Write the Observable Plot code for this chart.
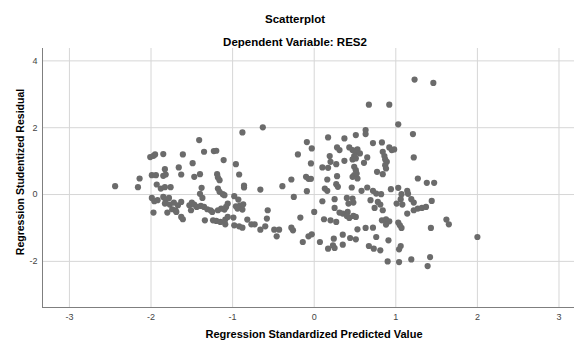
<!DOCTYPE html>
<html><head><meta charset="utf-8">
<script src="https://cdn.jsdelivr.net/npm/d3@7"></script>
<script src="https://cdn.jsdelivr.net/npm/@observablehq/plot@0.6"></script>
<style>
body{margin:0;background:#fff;font-family:"Liberation Sans",Arial,sans-serif;}
#wrap{position:relative;width:574px;height:341px;overflow:hidden;background:#fff}
#chart{position:absolute;left:0;top:0}
.t{position:absolute;font-weight:bold;font-size:11px;color:#000;white-space:nowrap;transform:translate(-50%,-50%);z-index:2}
</style></head><body>
<div id="wrap">
<div id="chart"></div>
<div class="t" style="left:295px;top:18.5px;font-size:11.5px">Scatterplot</div>
<div class="t" style="left:295px;top:41.5px;font-size:11.5px">Dependent Variable: RES2</div>
<div class="t" style="left:314px;top:334px">Regression Standardized Predicted Value</div>
<div class="t" style="left:20px;top:171.5px;font-size:10.5px;transform:translate(-50%,-50%) rotate(-90deg)">Regression Studentized Residual</div>
</div>
<script>
// Regression standardized predicted value (x) and studentized residual (y)
const predicted = [
-2.01,-1.97,-1.95,-1.85,-1.61,-1.35,-1.41,-1.83,-1.66,-1.49,-1.99,-1.94,-1.85,-1.82,-1.63,-1.47,-1.40,-2.14,-2.16,-2.44,-1.93,-1.88,-1.83,-1.76,-1.38,-1.40,
-1.99,-1.96,-1.92,-1.85,-1.82,-1.78,-1.83,-1.77,-1.72,-1.67,-1.70,-1.74,-1.69,-1.63,-1.97,-1.80,-1.63,-1.61,-1.53,-1.51,-1.50,-1.47,-1.44,-1.39,-1.35,-1.37,-1.31,-1.27,-1.25,-1.34,-1.24,
-0.63,-0.88,-1.23,-1.20,-1.11,-0.96,-0.92,-1.19,-1.18,-1.16,-0.86,-0.86,-0.66,-1.18,-1.16,-1.12,-1.10,-0.98,-0.93,-0.96,-0.91,-0.87,-0.94,-0.88,-1.06,-1.08,-1.10,-1.14,-1.18,-1.20,-1.15,-1.09,-1.06,-1.09,-0.99,-0.98,-0.92,-0.88,-0.82,-0.77,-0.73,-0.66,-0.60,-0.58,-0.57,-0.49,-0.43,-0.46,-0.28,-0.26,-0.17,-0.14,-0.07,-0.03,-0.39,-0.28,-0.25,-0.20,-0.09,-0.03,-0.04,-0.10,-0.07,-0.04,-0.09,0.00,0.07,
1.23,0.67,0.92,1.03,1.21,1.22,1.27,1.38,0.63,0.63,0.51,0.37,0.17,0.72,0.83,0.28,0.31,0.43,0.47,0.51,0.53,0.56,0.49,0.47,0.51,0.19,0.92,0.95,0.98,0.84,0.86,0.87,0.89,0.87,0.88,0.65,0.61,0.37,0.27,0.20,0.17,0.10,0.49,0.51,0.49,0.47,0.53,0.52,0.28,0.27,0.29,0.16,0.77,0.84,0.13,0.16,0.46,0.58,0.65,0.72,0.76,0.82,0.94,1.03,1.14,1.07,1.15,
0.10,0.25,0.40,0.47,0.48,0.42,0.69,0.78,0.81,0.74,0.84,0.25,0.31,0.35,0.41,0.40,0.43,0.48,0.51,0.12,0.20,0.27,1.01,1.06,1.08,1.19,1.22,1.14,1.22,1.27,1.32,1.37,0.83,0.88,0.92,0.88,1.03,1.05,1.07,1.43,0.53,0.63,0.72,0.24,0.35,0.44,0.51,0.76,0.23,0.25,0.17,0.35,0.67,0.73,0.81,0.91,1.06,1.04,0.90,1.04,1.19,1.42,1.39,
1.46,1.47,1.44,1.62,1.65,2.00
];
const residual = [
1.12,1.16,1.20,1.21,1.20,1.28,1.63,0.76,0.81,0.94,0.58,0.58,0.56,0.60,0.60,0.53,0.61,0.48,0.22,0.25,0.30,0.18,0.22,0.22,0.20,0.02,
-0.10,-0.20,-0.17,-0.07,-0.17,-0.10,-0.27,-0.30,-0.24,-0.32,-0.47,-0.44,-0.52,-0.22,-0.54,-0.54,-0.67,-0.74,-0.32,-0.47,-0.24,-0.30,-0.37,-0.34,-0.37,-0.10,-0.44,-0.47,-0.52,-0.77,-0.77,
2.01,1.86,1.30,1.31,1.03,0.91,0.60,0.61,0.51,0.43,0.27,0.21,0.15,0.18,0.08,0.01,-0.02,-0.05,-0.15,-0.35,-0.33,-0.29,-0.42,-0.45,-0.27,-0.37,-0.45,-0.42,-0.47,-0.79,-0.82,-0.75,-0.67,-0.89,-0.69,-0.92,-0.95,-0.99,-0.75,-0.89,-0.89,-1.05,-0.95,-0.72,-0.47,-1.05,-1.05,-1.25,-0.99,-1.07,-0.69,-1.42,-1.25,-1.19,0.25,0.45,-0.07,1.20,1.57,1.38,0.93,0.53,0.47,0.47,0.10,-0.52,-1.42,
3.44,2.69,2.69,2.10,1.81,1.11,0.48,0.35,1.93,1.81,1.78,1.68,1.71,1.54,1.56,1.41,1.33,1.41,1.33,1.25,1.35,1.23,1.15,1.05,1.08,1.15,1.41,1.33,1.35,1.28,1.15,1.05,0.98,0.88,0.78,1.11,0.95,1.01,0.91,0.98,0.80,0.81,0.83,0.73,0.58,0.53,0.48,0.63,0.55,0.31,0.23,0.45,0.68,0.61,0.18,0.11,0.21,0.11,0.21,0.11,0.03,0.01,0.16,0.20,0.11,0.01,0.02,
-0.20,-0.14,-0.10,-0.12,-0.24,-0.27,-0.17,-0.22,-0.30,-0.40,-0.47,-0.40,-0.54,-0.57,-0.52,-0.64,-0.70,-0.64,-0.67,-0.74,-0.77,-0.82,-0.27,-0.14,-0.30,-0.14,-0.24,-0.57,-0.47,-0.42,-0.40,-0.37,-0.77,-0.74,-0.80,-0.90,-0.84,-0.92,-1.00,-1.00,-1.04,-1.00,-0.99,-1.32,-1.20,-1.30,-1.34,-1.27,-1.52,-1.60,-1.62,-1.50,-1.54,-1.62,-1.67,-1.37,-1.54,-1.64,-2.00,-2.02,-1.94,-1.87,-2.14,
3.34,0.35,-0.19,-0.75,-0.89,-1.27
];
const xTicks = [-3, -2, -1, 0, 1, 2, 3];
const yTicks = [-2, 0, 2, 4];
const xDomain = [-3.33, 3.19];
const yDomain = [-3.38, 4.37];

const data = predicted.map((x, i) => ({x, y: residual[i]}));

const chart = Plot.plot({
  width: 574,
  height: 341,
  marginTop: 48,
  marginBottom: 34,
  marginLeft: 42,
  marginRight: 0,
  style: {background: "transparent", fontFamily: "'Liberation Sans', Arial, sans-serif", overflow: "visible"},
  x: {domain: xDomain},
  y: {domain: yDomain},
  marks: [
    Plot.ruleX(xTicks, {stroke: "#d6d6d6", strokeWidth: 1}),
    Plot.ruleY(yTicks, {stroke: "#d6d6d6", strokeWidth: 1}),
    Plot.ruleX([xDomain[0]], {stroke: "#7f7f7f", strokeWidth: 1}),
    Plot.ruleY([yDomain[0]], {stroke: "#7f7f7f", strokeWidth: 1}),
    Plot.axisX(xTicks, {tickSize: 0, tickPadding: 6, tickFormat: d => String(d), fontSize: 9, fill: "#444", label: null}),
    Plot.axisY(yTicks, {tickSize: 0, tickPadding: 5, tickFormat: d => String(d), fontSize: 9, fill: "#444", label: null}),
    Plot.dot(data, {x: "x", y: "y", r: 3.1, fill: "#6b6b6b", stroke: "none"})
  ]
});
document.getElementById("chart").appendChild(chart);
</script>
</body></html>
